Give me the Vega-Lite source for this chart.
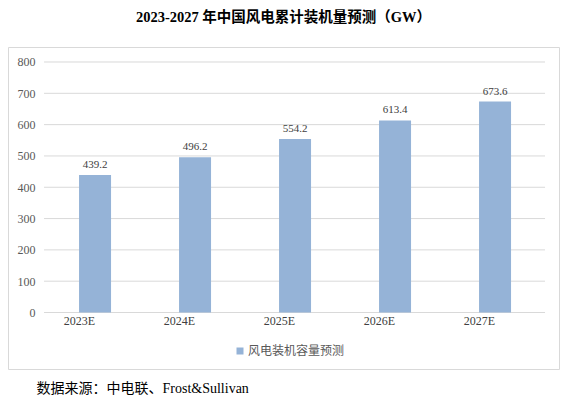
{
  "$schema": "https://vega.github.io/schema/vega-lite/v6.json",
  "width": 551,
  "height": 322,
  "autosize": {"type": "none"},
  "padding": {"left": 8, "top": 47, "right": 11, "bottom": 32},
  "background": "white",
  "title": {
    "text": "2023-2027 年中国风电累计装机量预测（GW）",
    "font": "Liberation Serif, Noto Sans CJK SC",
    "fontSize": 14.5,
    "fontWeight": "bold",
    "color": "#000000",
    "anchor": "middle",
    "offset": 22
  },
  "config": {"view": {"stroke": "#d9d9d9", "strokeWidth": 1}},
  "datasets": {
    "bars": [
      {"year": "2023E", "value": 439.2, "series": "风电装机容量预测"},
      {"year": "2024E", "value": 496.2, "series": "风电装机容量预测"},
      {"year": "2025E", "value": 554.2, "series": "风电装机容量预测"},
      {"year": "2026E", "value": 613.4, "series": "风电装机容量预测"},
      {"year": "2027E", "value": 673.6, "series": "风电装机容量预测"}
    ],
    "grid": [
      {"tick": 0}, {"tick": 100}, {"tick": 200}, {"tick": 300}, {"tick": 400},
      {"tick": 500}, {"tick": 600}, {"tick": 700}, {"tick": 800}
    ]
  },
  "layer": [
    {
      "data": {"name": "grid"},
      "mark": {"type": "rule", "color": "#d9d9d9", "strokeWidth": 1},
      "encoding": {
        "y": {"field": "tick", "type": "quantitative", "title": null, "scale": {"domain": [-180.4, 847.9], "nice": false, "zero": false}},
        "x": {"datum": "2023E", "bandPosition": -1.094, "title": null},
        "x2": {"datum": "2027E", "bandPosition": 2.0625}
      }
    },
    {
      "data": {"name": "bars"},
      "mark": {"type": "bar"},
      "encoding": {
        "x": {
          "field": "year", "type": "nominal", "sort": null,
          "scale": {"domain": ["2023E", "2024E", "2025E", "2026E", "2027E"], "paddingInner": 0.68, "paddingOuter": 0.595, "align": 0.597},
          "axis": {
            "orient": "bottom", "offset": -56.5, "domain": false, "ticks": false,
            "labelPadding": 8, "labelAngle": 0, "labelFont": "Liberation Serif",
            "labelFontSize": 12, "labelColor": "#404040",
            "title": "数据来源：中电联、Frost&Sullivan",
            "titleX": 28, "titleY": 76, "titleAlign": "left", "titleBaseline": "middle",
            "titleFont": "Liberation Serif, Noto Sans CJK SC", "titleFontSize": 14,
            "titleFontWeight": "normal", "titleColor": "#000000"
          }
        },
        "y": {
          "field": "value", "type": "quantitative",
          "scale": {"domain": [-180.4, 847.9], "nice": false, "zero": false},
          "axis": {
            "orient": "left", "offset": -29, "values": [0, 100, 200, 300, 400, 500, 600, 700, 800],
            "grid": false, "domain": false, "ticks": false, "labelPadding": 2,
            "labelFont": "Liberation Serif", "labelFontSize": 12, "labelColor": "#595959",
            "labelOverlap": false, "title": null
          }
        },
        "y2": {"datum": 0},
        "color": {
          "field": "series", "type": "nominal",
          "scale": {"range": ["#95B3D7"]},
          "legend": {
            "orient": "none", "legendX": 226, "legendY": 298, "title": null,
            "symbolType": "square", "symbolSize": 49, "symbolStrokeWidth": 0,
            "labelFont": "Noto Sans CJK SC", "labelFontSize": 12, "labelColor": "#595959",
            "padding": 0, "labelOffset": 2
          }
        }
      }
    },
    {
      "data": {"name": "bars"},
      "mark": {"type": "text", "baseline": "bottom", "dy": -5, "font": "Liberation Serif", "fontSize": 11, "color": "#404040"},
      "encoding": {
        "x": {"field": "year", "type": "nominal", "sort": null},
        "y": {"field": "value", "type": "quantitative"},
        "text": {"field": "value", "type": "quantitative", "format": ".1f"}
      }
    }
  ]
}
